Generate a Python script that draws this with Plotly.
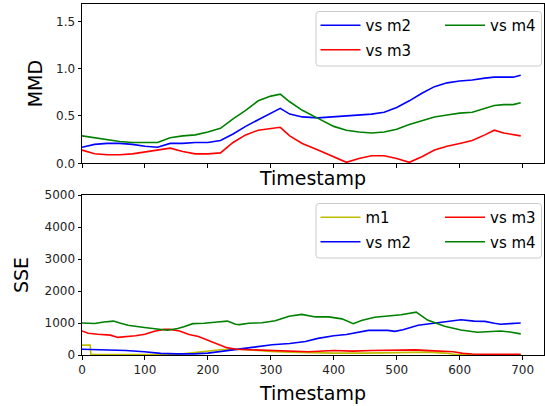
import plotly.graph_objects as go

# ---------------- data ----------------
timestamps_mmd = [0, 20, 40, 60, 80, 100, 120, 140, 160, 180, 200, 220, 240, 260, 280, 300, 315, 330,
                  350, 375, 400, 420, 440, 460, 480, 500, 520, 540, 560, 580, 600, 620, 640, 655, 670, 685, 697]
mmd_vs_m2 = [0.17, 0.20, 0.21, 0.21, 0.20, 0.18, 0.17, 0.21, 0.21, 0.22, 0.22, 0.24, 0.31, 0.39, 0.46, 0.53, 0.58, 0.52,
             0.49, 0.48, 0.49, 0.50, 0.51, 0.52, 0.54, 0.59, 0.66, 0.74, 0.81, 0.85, 0.87, 0.88, 0.90, 0.91, 0.91, 0.91, 0.93]
mmd_vs_m3 = [0.14, 0.10, 0.09, 0.09, 0.10, 0.12, 0.135, 0.16, 0.125, 0.10, 0.10, 0.11, 0.22, 0.30, 0.35, 0.37, 0.38, 0.29,
             0.21, 0.14, 0.07, 0.01, 0.05, 0.08, 0.08, 0.05, 0.01, 0.07, 0.14, 0.18, 0.21, 0.24, 0.30, 0.35, 0.32, 0.30, 0.29]
mmd_vs_m4 = [0.29, 0.27, 0.25, 0.23, 0.22, 0.22, 0.22, 0.27, 0.29, 0.30, 0.33, 0.37, 0.47, 0.56, 0.66, 0.71, 0.73, 0.65,
             0.56, 0.475, 0.39, 0.35, 0.33, 0.32, 0.33, 0.36, 0.41, 0.45, 0.49, 0.51, 0.53, 0.54, 0.58, 0.61, 0.62, 0.62, 0.64]

t_sse_m1 = [0, 13, 14, 50, 100, 150, 171, 200, 223, 250, 276, 300, 330, 360, 400, 450, 500, 523, 550, 576, 597, 650, 697]
sse_m1 = [310, 310, 20, 20, 15, 15, 60, 120, 170, 180, 140, 110, 90, 70, 60, 60, 80, 100, 90, 60, 10, 5, 5]

t_sse_m2 = [0, 20, 47, 70, 99, 125, 150, 178, 200, 223, 250, 276, 302, 330, 355, 375, 400, 420, 440, 455,
            470, 486, 497, 510, 534, 560, 580, 602, 623, 640, 655, 665, 680, 697]
sse_m2 = [180, 170, 160, 140, 100, 50, 35, 35, 60, 115, 200, 260, 320, 360, 420, 520, 600, 640, 720, 770,
          770, 770, 740, 790, 930, 990, 1040, 1100, 1060, 1050, 990, 960, 980, 1000]

t_sse_m3 = [0, 10, 25, 45, 57, 70, 85, 100, 115, 130, 140, 155, 170, 185, 200, 215, 230, 245, 260, 280,
            300, 330, 360, 400, 430, 460, 500, 530, 560, 590, 605, 620, 650, 697]
sse_m3 = [750, 680, 650, 620, 550, 570, 600, 650, 740, 800, 800, 750, 640, 580, 470, 340, 230, 180, 170, 160,
          130, 110, 100, 140, 120, 140, 140, 160, 130, 100, 50, 30, 20, 20]

t_sse_m4 = [0, 20, 35, 50, 60, 73, 99, 120, 136, 152, 162, 176, 194, 215, 231, 244, 250, 265, 286, 307,
            329, 349, 371, 392, 413, 431, 444, 465, 486, 507, 531, 549, 576, 602, 628, 665, 680, 697]
sse_m4 = [1000, 985, 1030, 1060, 1000, 930, 860, 800, 775, 830, 880, 980, 990, 1030, 1060, 960, 950, 990, 1010, 1070,
          1210, 1270, 1190, 1190, 1130, 980, 1080, 1180, 1210, 1260, 1340, 1090, 900, 780, 710, 750, 720, 660]

x_ticks = [0, 100, 200, 300, 400, 500, 600, 700]
mmd_ticks = [0.0, 0.5, 1.0, 1.5]
sse_ticks = [0, 1000, 2000, 3000, 4000, 5000]

# ---------------- layout helpers ----------------
FIG_W, FIG_H = 545, 406
L, R, T, B = 82, 1, 4, 51
PW, PH = FIG_W - L - R, FIG_H - T - B


def paper_x(px):
    return (px - L) / PW


def paper_y(py):
    return 1 - (py - T) / PH


def rounded_box(x0, y0, x1, y1, r=3):
    pts = [
        ("M", x0 + r, y0), ("L", x1 - r, y0), ("Q", x1, y0, x1, y0 + r),
        ("L", x1, y1 - r), ("Q", x1, y1, x1 - r, y1), ("L", x0 + r, y1),
        ("Q", x0, y1, x0, y1 - r), ("L", x0, y0 + r), ("Q", x0, y0, x0 + r, y0),
    ]
    parts = []
    for p in pts:
        if p[0] == "Q":
            parts.append("Q%.5f,%.5f %.5f,%.5f" % (paper_x(p[1]), paper_y(p[2]), paper_x(p[3]), paper_y(p[4])))
        else:
            parts.append("%s%.5f,%.5f" % (p[0], paper_x(p[1]), paper_y(p[2])))
    return " ".join(parts) + " Z"


FONT = "DejaVu Sans"
C_BLUE, C_RED, C_GREEN, C_YEL = "#0000ff", "#ff0000", "#008000", "#bfbf00"
LW = 1.6

fig = go.Figure()

# top panel
fig.add_trace(go.Scatter(x=timestamps_mmd, y=mmd_vs_m2, mode="lines", name="vs m2",
                         line=dict(color=C_BLUE, width=LW), legend="legend", legendgroup="a1",
                         xaxis="x", yaxis="y"))
fig.add_trace(go.Scatter(x=timestamps_mmd, y=mmd_vs_m3, mode="lines", name="vs m3",
                         line=dict(color=C_RED, width=LW), legend="legend", legendgroup="a2",
                         xaxis="x", yaxis="y"))
fig.add_trace(go.Scatter(x=timestamps_mmd, y=mmd_vs_m4, mode="lines", name="vs m4",
                         line=dict(color=C_GREEN, width=LW), legend="legend2", legendgroup="a3",
                         xaxis="x", yaxis="y"))

# bottom panel
fig.add_trace(go.Scatter(x=t_sse_m1, y=sse_m1, mode="lines", name="m1",
                         line=dict(color=C_YEL, width=LW), legend="legend3", legendgroup="b1",
                         xaxis="x2", yaxis="y2"))
fig.add_trace(go.Scatter(x=t_sse_m2, y=sse_m2, mode="lines", name="vs m2",
                         line=dict(color=C_BLUE, width=LW), legend="legend3", legendgroup="b2",
                         xaxis="x2", yaxis="y2"))
fig.add_trace(go.Scatter(x=t_sse_m3, y=sse_m3, mode="lines", name="vs m3",
                         line=dict(color=C_RED, width=LW), legend="legend4", legendgroup="b3",
                         xaxis="x2", yaxis="y2"))
fig.add_trace(go.Scatter(x=t_sse_m4, y=sse_m4, mode="lines", name="vs m4",
                         line=dict(color=C_GREEN, width=LW), legend="legend4", legendgroup="b4",
                         xaxis="x2", yaxis="y2"))

axis_common = dict(showline=True, linecolor="#000000", linewidth=1, mirror=True,
                   ticks="outside", ticklen=3.5, tickwidth=0.8, tickcolor="#000000",
                   showgrid=False, zeroline=False, automargin=False,
                   tickfont=dict(family=FONT, size=12, color="#222222"))

top_dom = [paper_y(163.3), 1]
bot_dom = [0, paper_y(195)]

fig.update_layout(
    width=FIG_W, height=FIG_H,
    margin=dict(l=L, r=R, t=T, b=B, pad=0, autoexpand=False),
    paper_bgcolor="white", plot_bgcolor="white",
    showlegend=True,
    xaxis=dict(axis_common, domain=[0, 1], range=[0, 734], tickvals=x_ticks, showticklabels=False,
               anchor="y",
               title=dict(text="Timestamp", font=dict(family=FONT, size=19, color="#000000"), standoff=4)),
    yaxis=dict(axis_common, domain=top_dom, range=[0, 1.683], tickvals=mmd_ticks, tickformat=".1f",
               anchor="x",
               title=dict(text="MMD", font=dict(family=FONT, size=19, color="#000000"), standoff=8)),
    xaxis2=dict(axis_common, domain=[0, 1], range=[0, 734], tickvals=x_ticks, anchor="y2",
                title=dict(text="Timestamp", font=dict(family=FONT, size=19, color="#000000"), standoff=10)),
    yaxis2=dict(axis_common, domain=bot_dom, range=[0, 5000], tickvals=sse_ticks, anchor="x2",
                title=dict(text="SSE", font=dict(family=FONT, size=19, color="#000000"), standoff=10)),
)

legend_common = dict(bgcolor="rgba(0,0,0,0)", borderwidth=0, orientation="v",
                     xref="paper", yref="paper", xanchor="left", yanchor="top",
                     traceorder="grouped", tracegroupgap=2, itemwidth=40,
                     font=dict(family=FONT, size=15, color="#000000"))

fig.update_layout(
    legend=dict(legend_common, x=paper_x(315.5), y=paper_y(9)),
    legend2=dict(legend_common, x=paper_x(440), y=paper_y(9)),
    legend3=dict(legend_common, x=paper_x(315.5), y=paper_y(201)),
    legend4=dict(legend_common, x=paper_x(440), y=paper_y(201)),
)

# legend frames (rounded, light gray), as in the reference
for (x0, y0, x1, y1) in [(316, 11.5, 541.5, 66), (316, 203.5, 541.5, 258)]:
    fig.add_shape(type="path", path=rounded_box(x0, y0, x1, y1), xref="paper", yref="paper",
                  line=dict(color="#cccccc", width=1), fillcolor="rgba(255,255,255,0.8)", layer="above")

fig.write_html("out.html")
